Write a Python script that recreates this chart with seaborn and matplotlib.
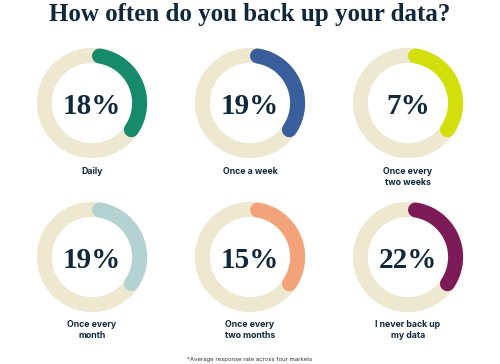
import matplotlib
matplotlib.use("Agg")
import matplotlib.pyplot as plt
import numpy as np
import seaborn as sns

# data
categories = ["Daily", "Once a week", "Once every\ntwo weeks",
              "Once every\nmonth", "Once every\ntwo months", "I never back up\nmy data"]
shares = [18, 19, 7, 19, 15, 22]
# visible arc length as a fraction of the ring (the arcs are drawn the same for every answer)
arc_fill = [0.37, 0.37, 0.37, 0.37, 0.37, 0.37]
colors = ["#178a6b", "#3a5e9c", "#d3df0b", "#b4d2d1", "#f3a37a", "#7d1a58"]
title = "How often do you back up your data?"
footnote = "*Average response rate across four markets"

sns.set_theme(style="white")
plt.rcParams["font.family"] = ["DejaVu Sans"]

W, H = 500, 364
fig = plt.figure(figsize=(W / 100, H / 100), dpi=100)
fig.patch.set_facecolor("white")

navy = "#10283b"
ring_bg = "#efe8d1"
col_x = [92, 250, 408]
row_y = [103, 257]
label_y = [167, 320]
size = 120           # axes size in px
lim = 1.26           # ring radius 1 -> ~47.6 px
ring_lw = 15 * 0.72  # 15 px in points
cap = np.degrees(7.5 / 47.5)

theta_full = np.linspace(0, 2 * np.pi, 400)

for i, (cat, val, frac, c) in enumerate(zip(categories, shares, arc_fill, colors)):
    r, k = divmod(i, 3)
    cx, cy = col_x[k], row_y[r]
    ax = fig.add_axes([(cx - size / 2) / W, 1 - (cy + size / 2) / H, size / W, size / H])
    ax.set_xlim(-lim, lim)
    ax.set_ylim(-lim, lim)
    ax.set_aspect("equal")
    ax.axis("off")

    # background ring, then the coloured arc from 12 o'clock clockwise
    sns.lineplot(x=np.sin(theta_full), y=np.cos(theta_full), sort=False,
                 estimator=None, color=ring_bg, linewidth=ring_lw, ax=ax)
    a0, a1 = cap, frac * 360 - cap
    t = np.radians(np.linspace(a0, a1, 200))
    sns.lineplot(x=np.sin(t), y=np.cos(t), sort=False, estimator=None,
                 color=c, linewidth=ring_lw, solid_capstyle="round", ax=ax)

    ax.text(0, 0, f"{val}%", ha="center", va="center_baseline",
            fontsize=21, color=navy, family=["Liberation Serif", "DejaVu Serif"],
            fontweight="bold")

    fig.text(cx / W, 1 - label_y[r] / H, cat, ha="center", va="top",
             fontsize=6.3, fontweight="bold", color=navy,
             family=["Inter", "DejaVu Sans"], linespacing=1.25)

fig.text(0.5, 1 - 14 / H, title, ha="center", va="center", fontsize=18,
         fontweight="bold", color=navy, family=["Liberation Serif", "DejaVu Serif"])
fig.text(0.5, 1 - 359 / H, footnote, ha="center", va="center", fontsize=4.3,
         color="#333333", family=["Inter", "DejaVu Sans"])

fig.savefig("out.png", dpi=100, facecolor="white")
